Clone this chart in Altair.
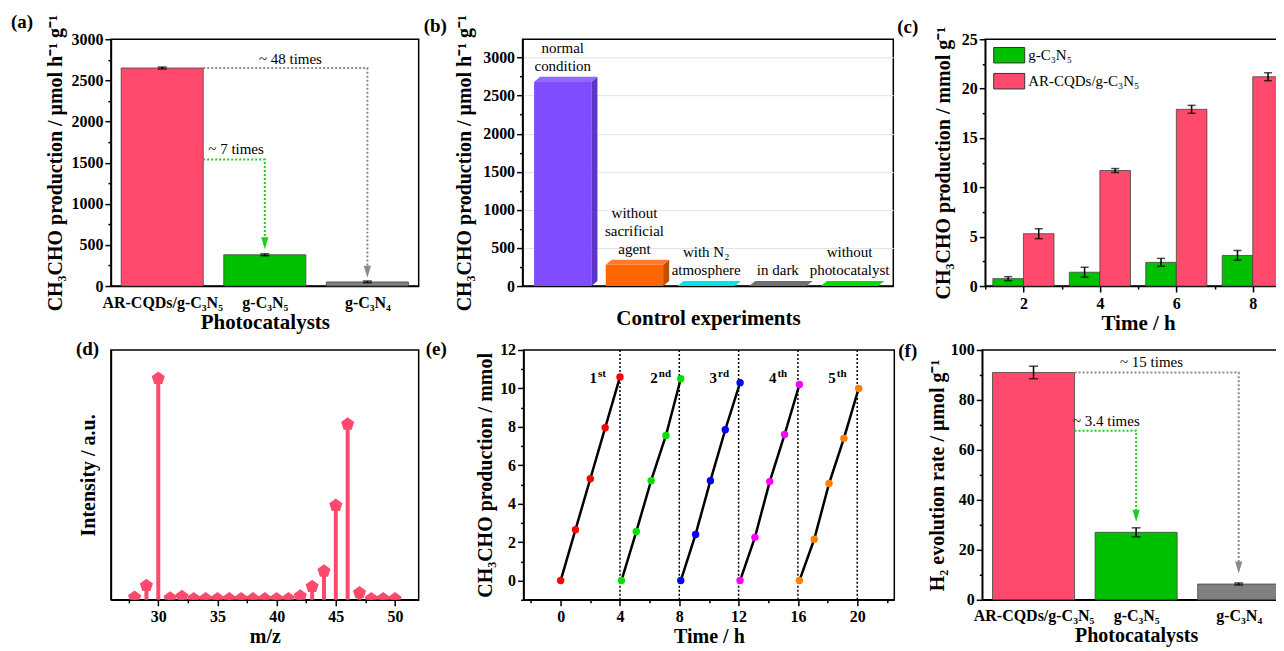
import json
import altair as alt
import pandas as pd

FONT = "Liberation Serif"
PINK = "#FF4A6D"
GREEN = "#00C000"
GRAY = "#7F7F7F"
ARROW_GRAY = "#8A8A8A"
ARROW_GREEN = "#1FCC1F"
ARROW = "M-0.6,-1L0.6,-1L0,1Z"
PENT = "M0,-1L0.951,-0.309L0.588,0.809L-0.588,0.809L-0.951,-0.309Z"
RECT = "M-1,-0.5L1,-0.5L1,0.5L-1,0.5Z"

# ---------------- data ----------------
cat_labels = ["AR-CQDs/g-C₃N₅", "g-C₃N₅", "g-C₃N₄"]
cat_colors = [PINK, GREEN, GRAY]

a_vals = [2650, 380, 50]
a_errs = [12, 12, 10]

b_labels = ["normal\ncondition", "without\nsacrificial\nagent", "with N₂\natmosphere",
            "in dark", "without\nphotocatalyst"]
b_vals = [2680, 280, 0, 0, 0]
b_front = ["#7F4DFF", "#FF6600", "#00E5E5", "#707070", "#00E000"]
b_side = ["#5C35C8", "#C24E00", "#00B8B8", "#555555", "#00B000"]
b_top = ["#9169FF", "#FF7B2A", "#00E5E5", "#707070", "#00E000"]

c_time = [2, 4, 6, 8]
c_series = ["g-C₃N₅", "AR-CQDs/g-C₃N₅"]
c_g = [0.75, 1.4, 2.4, 3.1]
c_g_err = [0.2, 0.5, 0.4, 0.5]
c_ar = [5.3, 11.7, 17.9, 21.2]
c_ar_err = [0.5, 0.2, 0.4, 0.4]

d_mz = [28, 29, 30, 31, 32, 33, 34, 35, 36, 37, 38, 39, 40, 41, 42, 43, 44, 45, 46, 47, 48, 49, 50]
d_int = [1.0, 5.7, 88.6, 0.7, 1.3, 0.4, 0.4, 0.4, 0.4, 0.4, 0.4, 0.4, 0.4, 0.4,
         1.5, 5.3, 11.5, 37.8, 70.3, 2.8, 0.4, 0.4, 0.4]

e_cycles = ["1st", "2nd", "3rd", "4th", "5th"]
e_num = ["1", "2", "3", "4", "5"]
e_sup = ["st", "nd", "rd", "th", "th"]
e_colors = ["#FF0000", "#00E000", "#0000FF", "#FF00FF", "#FF8000"]
e_time = [
    [0, 1, 2, 3, 4],
    [4.1, 5.1, 6.1, 7.1, 8.1],
    [8.1, 9.1, 10.1, 11.1, 12.1],
    [12.1, 13.1, 14.1, 15.1, 16.1],
    [16.1, 17.1, 18.1, 19.1, 20.1],
]
e_vals = [
    [0, 2.65, 5.3, 7.95, 10.6],
    [0, 2.55, 5.2, 7.55, 10.5],
    [0, 2.4, 5.2, 7.85, 10.3],
    [0, 2.25, 5.15, 7.6, 10.2],
    [0, 2.15, 5.05, 7.4, 10.0],
]
e_div = [4, 8, 12, 16, 20]

f_vals = [91, 27, 6.3]
f_errs = [2.5, 1.8, 0.4]

CH3CHO_RATE = "CH₃CHO production / μmol h⁻¹ g⁻¹"


# ---------------- helpers ----------------
def minor_axis(title, values, test, **kw):
    return alt.Axis(title=title, values=values, format="d",
                    labelExpr=f"({test}) ? datum.label : ''",
                    tickSize={"condition": {"test": test, "value": 6}, "value": 3},
                    labelOverlap=False, labelFlush=False, **kw)


def tag(txt, x, y):
    return alt.Chart(pd.DataFrame({"t": [txt]})).mark_text(
        font=FONT, fontSize=19, fontWeight="bold", align="left", baseline="top", color="black"
    ).encode(x=alt.value(x), y=alt.value(y), text="t:N")


def catbar(vals, errs, ymax, ystep, major, ytitle, ytpad, ann, letter, w, h, xtpad, xtsize):
    idx = list(range(len(vals)))
    df = pd.DataFrame({"i": idx, "lo": [i - 0.4 for i in idx], "hi": [i + 0.4 for i in idx],
                       "v": vals, "z": [0] * len(vals), "c": cat_colors,
                       "elo": [v - e for v, e in zip(vals, errs)],
                       "ehi": [v + e for v, e in zip(vals, errs)]})
    xs = alt.Scale(domain=[-0.5, 2.5], nice=False, zero=False)
    ys = alt.Scale(domain=[0, ymax], nice=False, zero=False)
    yvals = [round(k * ystep, 6) for k in range(int(round(ymax / ystep)) + 1)]
    labexpr = json.dumps(cat_labels, ensure_ascii=False) + "[datum.value]"
    xaxis = alt.Axis(title="Photocatalysts", values=idx, labelExpr=labexpr, ticks=False,
                     labelPadding=8, titlePadding=xtpad, titleFontSize=xtsize, labelFlush=False,
                     labelOverlap=False)
    yaxis = minor_axis(ytitle, yvals, major, titlePadding=ytpad)

    def X(f):
        return alt.X(f, scale=xs, axis=xaxis)

    def Y(f):
        return alt.Y(f, scale=ys, axis=yaxis)

    bars = alt.Chart(df).mark_bar(stroke="#444444", strokeWidth=0.8).encode(
        x=X("lo:Q"), x2="hi", y=Y("v:Q"), y2="z", color=alt.Color("c:N", scale=None))
    erule = alt.Chart(df).mark_rule(color="black", strokeWidth=1.5).encode(
        x=X("i:Q"), y=Y("elo:Q"), y2="ehi")
    ecap1 = alt.Chart(df).mark_tick(color="black", orient="horizontal", size=9, thickness=1.5).encode(
        x=X("i:Q"), y=Y("elo:Q"))
    ecap2 = alt.Chart(df).mark_tick(color="black", orient="horizontal", size=9, thickness=1.5).encode(
        x=X("i:Q"), y=Y("ehi:Q"))
    layers = [bars, erule, ecap1, ecap2]
    for key, col, target in (("far", ARROW_GRAY, 2), ("near", ARROW_GREEN, 1)):
        a = ann[key]
        path = pd.DataFrame({"x": [0.4, target, target], "y": [a["y"], a["y"], a["tip"]], "o": [0, 1, 2]})
        layers.append(alt.Chart(path).mark_line(color=col, strokeDash=[2, 2], strokeWidth=2).encode(
            x=X("x:Q"), y=Y("y:Q"), order="o:Q"))
        head = pd.DataFrame({"x": [target], "y": [a["tip"]]})
        layers.append(alt.Chart(head).mark_point(shape=ARROW, size=144, filled=True, color=col, opacity=1).encode(
            x=X("x:Q"), y=Y("y:Q")))
        layers.append(alt.Chart(pd.DataFrame({"x": [a["tx"]], "y": [a["ty"]], "t": [a["text"]]})).mark_text(
            font=FONT, fontSize=15, color="black", baseline="middle").encode(
            x=X("x:Q"), y=Y("y:Q"), text="t:N"))
    layers.append(tag(letter[0], letter[1], letter[2]))
    return alt.layer(*layers).properties(width=w, height=h)


# ---------------- (a) ----------------
panel_a = catbar(a_vals, a_errs, 3000, 250, "datum.value % 500 === 0", CH3CHO_RATE, 5,
                 {"far": {"y": a_vals[0], "tip": 174, "tx": 1.25, "ty": 2760, "text": "~ 48 times"},
                  "near": {"y": 1537, "tip": 520, "tx": 0.72, "ty": 1660, "text": "~ 7 times"}},
                 ("(a)", -100, -26), 308, 247, 2, 21)

# ---------------- (b) ----------------
B_H = 247
B_YMAX = 3240
dx, dz = 0.084, 66
LINE_H = 18
line_units = LINE_H * B_YMAX / B_H
bi = list(range(len(b_vals)))
b_xs = alt.Scale(domain=[-0.56, 4.61], nice=False, zero=False)
b_ys = alt.Scale(domain=[0, B_YMAX], nice=False, zero=False)
b_xaxis = alt.Axis(title="Control experiments", labels=False, ticks=False, titlePadding=21, titleFontSize=21)
b_yaxis = minor_axis(CH3CHO_RATE, list(range(0, 3001, 250)), "datum.value % 500 === 0",
                     titlePadding=8, grid=True, gridColor="#E2E2E2", gridWidth=1,
                     gridOpacity={"condition": {"test": "datum.value % 500 === 0", "value": 1}, "value": 0})


def BX(f):
    return alt.X(f, scale=b_xs, axis=b_xaxis)


def BY(f):
    return alt.Y(f, scale=b_ys, axis=b_yaxis)


b_df = pd.DataFrame({"i": bi, "lo": [i - 0.4 for i in bi], "hi": [i + 0.4 for i in bi],
                     "v": b_vals, "z": [0] * len(bi), "c": b_front, "lab": b_labels,
                     "ty": [v + dz + (lab.count("\n")) * line_units for v, lab in zip(b_vals, b_labels)]})
side_rows, top_rows = [], []
for i, v, cs, ct in zip(bi, b_vals, b_side, b_top):
    side_rows += [{"b": i, "x": i + 0.4, "y": 0, "y2": v, "c": cs},
                  {"b": i, "x": i + 0.4 + dx, "y": dz, "y2": v + dz, "c": cs}]
    top_rows += [{"b": i, "y": v, "x": i - 0.4, "x2": i + 0.4, "c": ct},
                 {"b": i, "y": v + dz, "x": i - 0.4 + dx, "x2": i + 0.4 + dx, "c": ct}]
b_front_l = alt.Chart(b_df).mark_bar().encode(
    x=BX("lo:Q"), x2="hi", y=BY("v:Q"), y2="z", color=alt.Color("c:N", scale=None))
b_side_l = alt.Chart(pd.DataFrame(side_rows)).mark_area(opacity=1).encode(
    x=BX("x:Q"), y=BY("y:Q"), y2="y2", detail="b:N", color=alt.Color("c:N", scale=None))
b_top_l = alt.Chart(pd.DataFrame(top_rows)).mark_area(orient="horizontal", opacity=1).encode(
    y=BY("y:Q"), x=BX("x:Q"), x2="x2", detail="b:N", color=alt.Color("c:N", scale=None))
b_text = alt.Chart(b_df).mark_text(font=FONT, fontSize=15, lineBreak="\n", lineHeight=LINE_H,
                                   baseline="bottom", dy=-3, color="black").encode(
    x=BX("i:Q"), y=BY("ty:Q"), text="lab:N")
panel_b = alt.layer(b_front_l, b_side_l, b_top_l, b_text, tag("(b)", -99, -22)).properties(width=371, height=B_H)

# ---------------- (c) ----------------
c_rows = []
for s, vals, errs, off in ((c_series[0], c_g, c_g_err, -0.8), (c_series[1], c_ar, c_ar_err, 0.0)):
    for t, v, e in zip(c_time, vals, errs):
        c_rows.append({"s": s, "lo": t + off, "hi": t + off + 0.8, "mid": t + off + 0.4,
                       "v": v, "z": 0, "elo": v - e, "ehi": v + e})
c_df = pd.DataFrame(c_rows)
c_xs = alt.Scale(domain=[1, 9], nice=False, zero=False)
c_ys = alt.Scale(domain=[0, 25], nice=False, zero=False)
c_xaxis = minor_axis("Time / h", list(range(1, 10)), "datum.value % 2 === 0",
                     labelPadding=3, titlePadding=2, titleFontSize=21)
c_yaxis = minor_axis("CH₃CHO production / mmol g⁻¹", [k * 2.5 for k in range(11)],
                     "datum.value % 5 === 0", titlePadding=8)


def CX(f):
    return alt.X(f, scale=c_xs, axis=c_xaxis)


def CY(f):
    return alt.Y(f, scale=c_ys, axis=c_yaxis)


c_bars = alt.Chart(c_df).mark_bar(stroke="#444444", strokeWidth=0.8).encode(
    x=CX("lo:Q"), x2="hi", y=CY("v:Q"), y2="z",
    color=alt.Color("s:N", scale=alt.Scale(domain=c_series, range=[GREEN, PINK]),
                    legend=alt.Legend(title=None, orient="none", legendX=8, legendY=0,
                                      symbolType=RECT, symbolSize=961, symbolStrokeColor="#333333",
                                      symbolStrokeWidth=1, symbolOpacity=1, labelFont=FONT,
                                      labelFontSize=15, labelFontWeight="normal", labelColor="black",
                                      rowPadding=-10, labelOffset=3, padding=0)))
c_rule = alt.Chart(c_df).mark_rule(color="black", strokeWidth=1.5).encode(
    x=CX("mid:Q"), y=CY("elo:Q"), y2="ehi")
c_cap1 = alt.Chart(c_df).mark_tick(color="black", orient="horizontal", size=8, thickness=1.5).encode(
    x=CX("mid:Q"), y=CY("elo:Q"))
c_cap2 = alt.Chart(c_df).mark_tick(color="black", orient="horizontal", size=8, thickness=1.5).encode(
    x=CX("mid:Q"), y=CY("ehi:Q"))
panel_c = alt.layer(c_bars, c_rule, c_cap1, c_cap2, tag("(c)", -88, -21)).properties(width=306, height=247)

# ---------------- (d) ----------------
d_df = pd.DataFrame({"mz": d_mz, "v": d_int, "z": [0] * len(d_mz)})
d_xs = alt.Scale(domain=[26, 52], nice=False, zero=False)
d_ys = alt.Scale(domain=[0, 100], nice=False, zero=False)
d_xaxis = minor_axis("m/z", [27.5, 30, 32.5, 35, 37.5, 40, 42.5, 45, 47.5, 50],
                     "datum.value % 5 === 0", labelPadding=3, titlePadding=2, titleFontSize=20)
d_yaxis = alt.Axis(title="Intensity / a.u.", labels=False, ticks=False, titlePadding=12)
d_stem = alt.Chart(d_df).mark_rule(color=PINK, strokeWidth=4).encode(
    x=alt.X("mz:Q", scale=d_xs, axis=d_xaxis), y=alt.Y("z:Q", scale=d_ys, axis=d_yaxis), y2="v")
d_pts = alt.Chart(d_df).mark_point(shape=PENT, size=190, filled=True, color=PINK, opacity=1, clip=True).encode(
    x=alt.X("mz:Q", scale=d_xs, axis=d_xaxis), y=alt.Y("v:Q", scale=d_ys, axis=d_yaxis))
panel_d = alt.layer(d_stem, d_pts, tag("(d)", -35, -10)).properties(width=308, height=250)

# ---------------- (e) ----------------
e_rows = []
for cyc, ts, vs in zip(e_cycles, e_time, e_vals):
    for t, v in zip(ts, vs):
        e_rows.append({"cycle": cyc, "t": t, "v": v})
e_df = pd.DataFrame(e_rows)
e_xs = alt.Scale(domain=[-2.5, 22.5], nice=False, zero=False)
e_ys = alt.Scale(domain=[-1, 12], nice=False, zero=False)
e_xaxis = minor_axis("Time / h", list(range(-2, 23, 2)), "datum.value % 4 === 0",
                     labelPadding=3, titlePadding=2, titleFontSize=20)
e_yaxis = minor_axis("CH₃CHO production / mmol", list(range(-1, 13)),
                     "datum.value % 2 === 0 && datum.value >= 0", titlePadding=4)


def EX(f):
    return alt.X(f, scale=e_xs, axis=e_xaxis)


def EY(f):
    return alt.Y(f, scale=e_ys, axis=e_yaxis)


e_line = alt.Chart(e_df).mark_line(color="black", strokeWidth=2.5).encode(
    x=EX("t:Q"), y=EY("v:Q"), detail="cycle:N")
e_pts = alt.Chart(e_df).mark_circle(size=55, opacity=1).encode(
    x=EX("t:Q"), y=EY("v:Q"),
    color=alt.Color("cycle:N", scale=alt.Scale(domain=e_cycles, range=e_colors), legend=None))
e_rule = alt.Chart(pd.DataFrame({"t": e_div})).mark_rule(color="black", strokeDash=[2, 2], strokeWidth=1.5).encode(
    x=EX("t:Q"))
e_lab = pd.DataFrame({"x": [ts[0] + 2.45 for ts in e_time], "y": [10.3] * 5, "n": e_num, "s": e_sup})
e_num_l = alt.Chart(e_lab).mark_text(font=FONT, fontSize=15, fontWeight="bold", align="right",
                                     baseline="alphabetic", color="black").encode(
    x=EX("x:Q"), y=EY("y:Q"), text="n:N")
e_sup_l = alt.Chart(e_lab).mark_text(font=FONT, fontSize=11, fontWeight="bold", align="left",
                                     baseline="alphabetic", dy=-6, dx=1, color="black").encode(
    x=EX("x:Q"), y=EY("y:Q"), text="s:N")
panel_e = alt.layer(e_rule, e_line, e_pts, e_num_l, e_sup_l, tag("(e)", -98, -10)).properties(width=371, height=250)

# ---------------- (f) ----------------
panel_f = catbar(f_vals, f_errs, 100, 10, "datum.value % 20 === 0", "H₂ evolution rate / μmol g⁻¹", 3,
                 {"far": {"y": f_vals[0], "tip": 12.9, "tx": 1.15, "ty": 95, "text": "~ 15 times"},
                  "near": {"y": 67.7, "tip": 33.6, "tx": 0.71, "ty": 71.4, "text": "~ 3.4 times"}},
                 ("(f)", -84, -8), 308, 250, 2, 20)

# ---------------- layout ----------------
row1 = alt.hconcat(panel_a,
                   alt.hconcat(panel_b, panel_c, spacing=92, bounds="flush").resolve_scale(color="independent"),
                   spacing=104, bounds="flush").resolve_scale(color="independent")
row2 = alt.hconcat(panel_d,
                   alt.hconcat(panel_e, panel_f, spacing=88, bounds="flush").resolve_scale(color="independent"),
                   spacing=105, bounds="flush").resolve_scale(color="independent")

chart = alt.vconcat(row1, row2, spacing=311, bounds="flush").resolve_scale(
    color="independent"
).properties(
    padding={"left": 2, "top": 4, "right": -17, "bottom": 0}
).configure_view(
    stroke="black", strokeWidth=1.5
).configure_axis(
    labelFont=FONT, titleFont=FONT, labelFontSize=16, titleFontSize=20,
    labelFontWeight="bold", titleFontWeight="bold", labelColor="black", titleColor="black",
    domainColor="black", domainWidth=1.5, tickColor="black", tickWidth=1.5, grid=False
).configure_text(font=FONT)

chart.save("out.html", embed_options={"renderer": "svg", "actions": False})
